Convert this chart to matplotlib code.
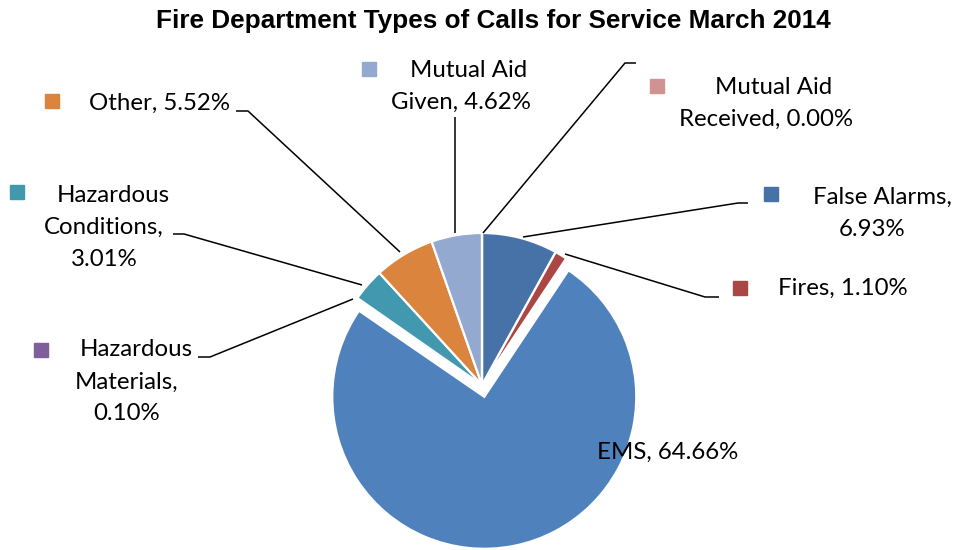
import matplotlib
matplotlib.use("Agg")
import matplotlib.pyplot as plt

# data
categories = ["False Alarms", "Fires", "EMS", "Hazardous Materials",
              "Hazardous Conditions", "Other", "Mutual Aid Given",
              "Mutual Aid Received"]
percents = [6.93, 1.10, 64.66, 0.10, 3.01, 5.52, 4.62, 0.00]
colors = ["#4672A8", "#AA4643", "#4F81BD", "#7E5F9A",
          "#4198AF", "#DB843D", "#93A9CF", "#D19392"]
title = "Fire Department Types of Calls for Service March 2014"

W, H = 970, 550


def Y(y):
    # image rows (top down) -> data y (bottom up)
    return H - y


# label layout: words per line, first-line centre, other-lines centre x,
# marker centre, leader line points (image pixels)
layout = {
    "False Alarms": dict(wrap=[2, 1], first=(882, 197), rest_x=872, marker=(771, 194),
                         leader=[(523, 237), (738, 203), (748, 203)]),
    "Fires": dict(wrap=[2], first=(843, 288), rest_x=843, marker=(740, 288),
                  leader=[(565, 254), (705, 297), (719, 297)]),
    "EMS": dict(wrap=[2], first=(668, 452), rest_x=668, marker=None, leader=None),
    "Hazardous Materials": dict(wrap=[1, 1, 1], first=(136, 350), rest_x=127, marker=(41, 350),
                                leader=[(353, 299), (210, 357), (198, 357)]),
    "Hazardous Conditions": dict(wrap=[1, 1, 1], first=(113, 195), rest_x=104, marker=(17, 192),
                                 leader=[(362, 285), (184, 234), (173, 234)]),
    "Other": dict(wrap=[2], first=(160, 103), rest_x=160, marker=(52, 101),
                  leader=[(400, 252), (248, 111), (236, 111)]),
    "Mutual Aid Given": dict(wrap=[2, 2], first=(469, 70), rest_x=461, marker=(369, 69),
                             leader=[(455, 233), (455, 117)]),
    "Mutual Aid Received": dict(wrap=[2, 2], first=(774, 87), rest_x=766, marker=(657, 86),
                                leader=[(483, 233), (625, 63), (636, 63)]),
}
line_gap = 32

fig = plt.figure(figsize=(W / 100, H / 100), dpi=100)
ax = fig.add_axes([0, 0, 1, 1])

explode = [12 if c == "EMS" else 0 for c in categories]
ax.pie(percents, colors=colors, startangle=90, counterclock=False,
       center=(482, Y(385)), radius=152, explode=explode,
       wedgeprops=dict(edgecolor="white", linewidth=1.6), frame=True)
ax.set_xlim(0, W)
ax.set_ylim(0, H)
ax.axis("off")

ax.text(493, Y(21), title, ha="center", va="center",
        fontsize=18.8, fontweight="bold", family="Liberation Sans")

font = dict(family="Lato", fontsize=17.3, color="black")
for cat, val, col in zip(categories, percents, colors):
    lay = layout[cat]
    words = f"{cat}, {val:.2f}%".split()
    lines, i = [], 0
    for n in lay["wrap"]:
        lines.append(" ".join(words[i:i + n]))
        i += n
    fx, fy = lay["first"]
    ax.text(fx, Y(fy), lines[0], ha="center", va="center", **font)
    for k, ln in enumerate(lines[1:], start=1):
        ax.text(lay["rest_x"], Y(fy + k * line_gap), ln, ha="center", va="center", **font)
    if lay["marker"]:
        mx, my = lay["marker"]
        ax.plot(mx, Y(my), marker="s", markersize=10.5, color=col, linestyle="none")
    if lay["leader"]:
        xs = [p[0] for p in lay["leader"]]
        ys = [Y(p[1]) for p in lay["leader"]]
        ax.plot(xs, ys, color="black", linewidth=1.1, solid_capstyle="butt")

fig.savefig("out.png", dpi=100, facecolor="white")
